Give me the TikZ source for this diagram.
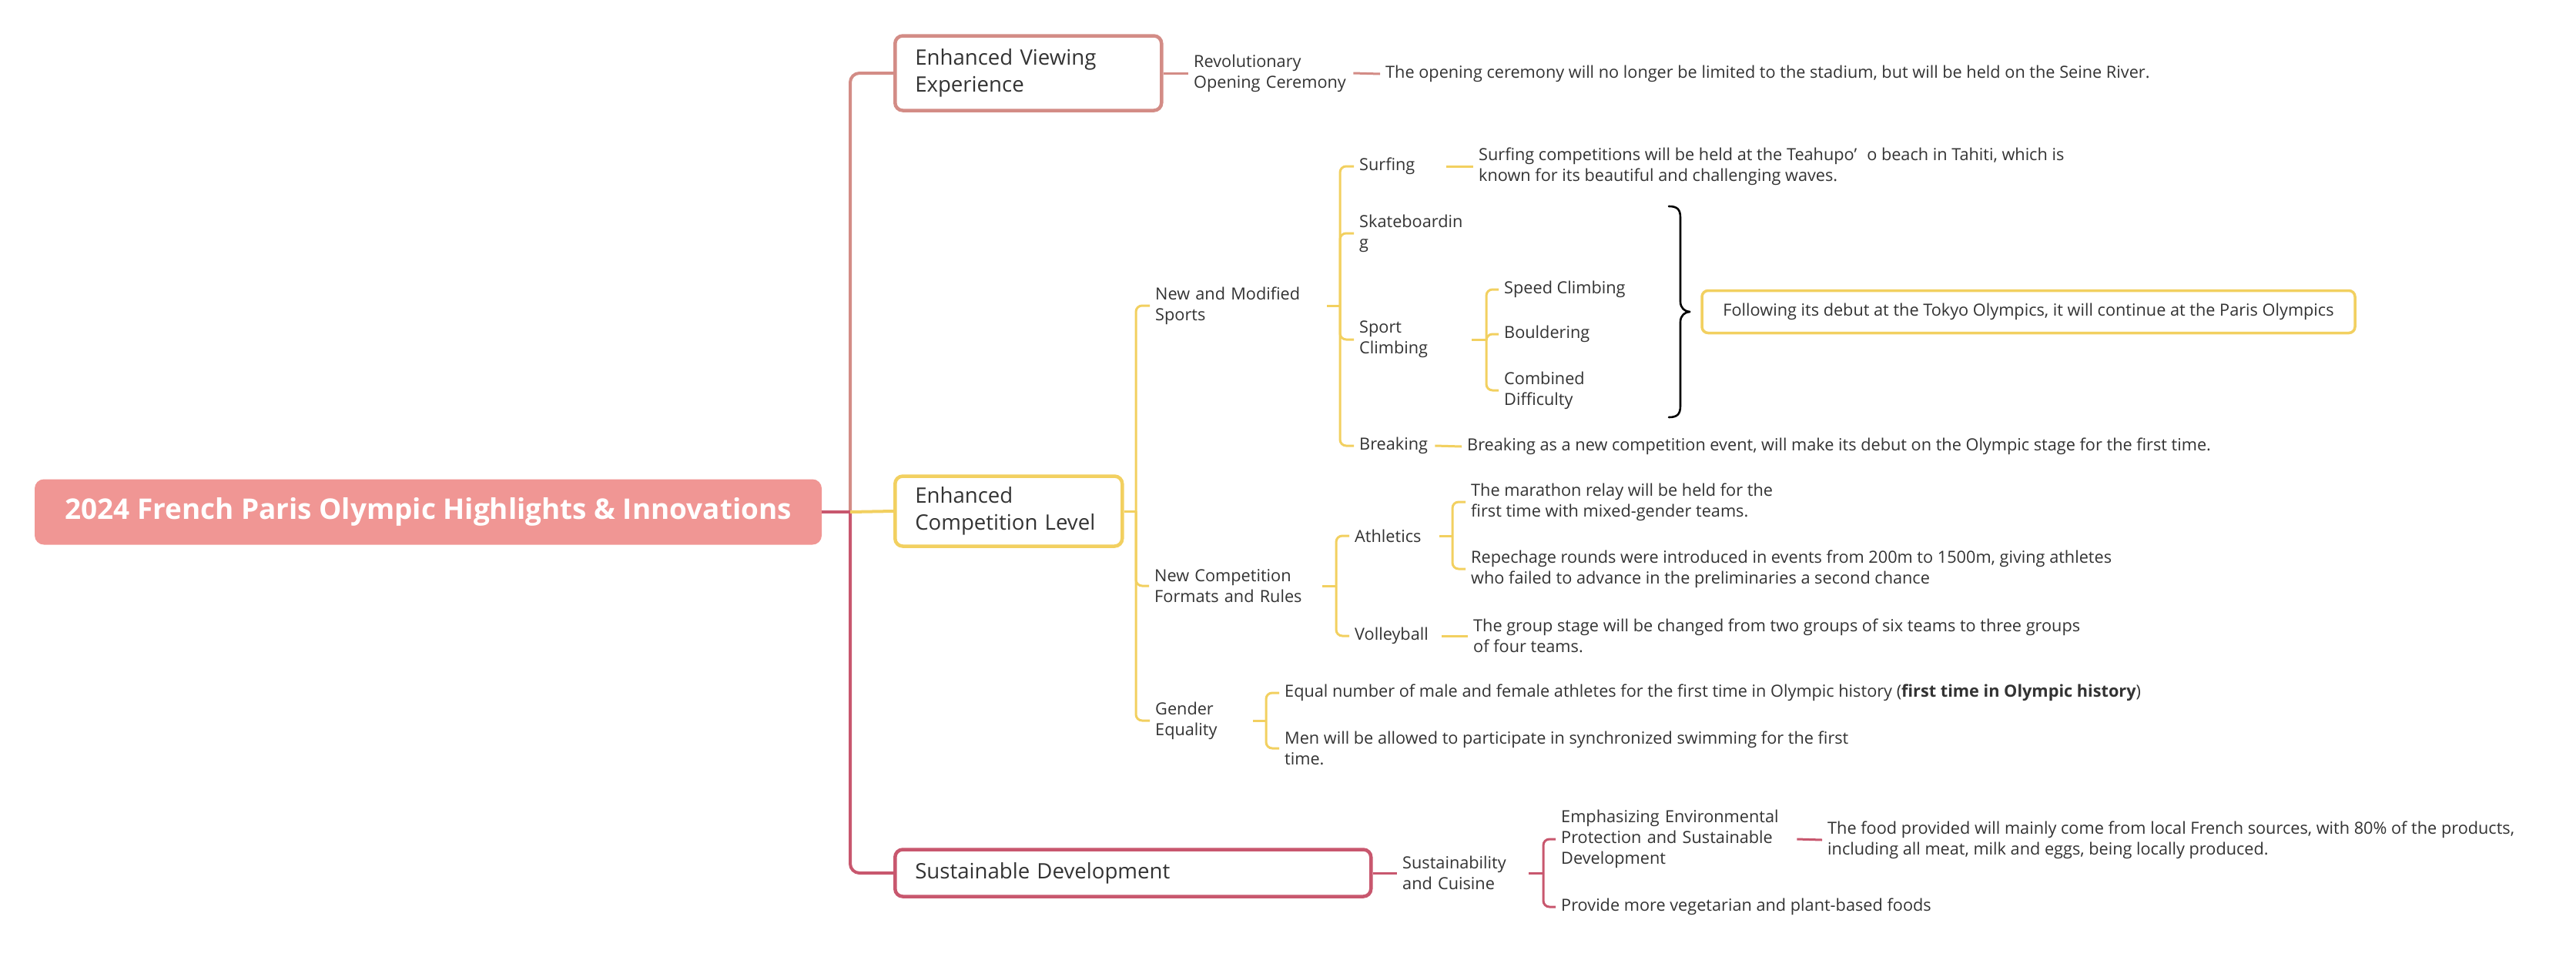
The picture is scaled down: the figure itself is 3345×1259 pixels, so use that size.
\documentclass[tikz,border=0pt]{standalone}
\usepackage{fontspec}
\setmainfont{Open Sans}
\definecolor{rosec}{RGB}{211,140,134}
\definecolor{yel}{RGB}{242,208,96}
\definecolor{crim}{RGB}{200,87,110}
\definecolor{rootfill}{RGB}{240,150,148}
\definecolor{txtc}{RGB}{51,51,51}
\begin{document}
\begin{tikzpicture}[x=1pt,y=-1pt,
  lbl/.style={anchor=west, inner xsep=7pt, inner ysep=0pt, align=left, text=txtc,
              font=\fontsize{21.7}{27}\selectfont},
  lone/.style={draw, line width=4.5pt, rounded corners=10pt, fill=white, anchor=west,
              align=left, inner xsep=26pt, inner ysep=0pt, text=txtc,
              font=\fontsize{27.6}{35}\selectfont},
  trunk/.style={line width=4pt},
  br/.style={line width=3pt, rounded corners=8pt},
  brace/.style={line width=2.6pt, black, line cap=round, line join=round}
]
\useasboundingbox (0,0) rectangle (3345,1259);

% root
\node[fill=rootfill, rounded corners=12pt, minimum width=1022pt, minimum height=85pt,
      text=white, font=\fontsize{36.9}{42}\selectfont\bfseries, inner sep=0pt]
  (root) at (556,665) {2024 French Paris Olympic Highlights \& Innovations};

% level 1
\node[lone, draw=rosec, text width=294pt, minimum height=97pt] (V) at (1160,95) {Enhanced Viewing\\Experience};
\node[lone, draw=yel, text width=243pt, minimum height=91pt] (C) at (1160,664) {Enhanced\\Competition Level};
\node[lone, draw=crim, text width=566pt, minimum height=61pt] (S) at (1160,1134) {Sustainable Development};

% trunk
\coordinate (tr) at (1104,665);
\draw[trunk, rosec, rounded corners=12pt] (tr) |- (V.west);
\draw[trunk, crim, rounded corners=12pt] (tr) |- (S.west);
\draw[trunk, crim] (root.east) -- (tr);
\draw[trunk, yel] (tr) -- (C.west);

% viewing branch
\node[lbl, text width=200pt] (RO) at (1543,95) {Revolutionary\\Opening Ceremony};
\node[lbl] (OC) at (1792,96) {The opening ceremony will no longer be limited to the stadium, but will be held on the Seine River.};
\draw[br, rosec] (V.east) -- (RO.west);
\draw[br, rosec] (RO.east) -- (OC.west);

% competition branch
\node[lbl, text width=216pt] (NMS) at (1493,397) {New and Modified\\Sports};
\node[lbl, text width=211pt] (NCF) at (1492,761) {New Competition\\Formats and Rules};
\node[lbl, text width=120pt] (GE) at (1493,936) {Gender\\Equality};
\coordinate (jC) at (1475,664);
\draw[br, yel] (C.east) -- (jC);
\draw[br, yel] (jC) |- (NMS.west);
\draw[br, yel] (jC) |- (NCF.west);
\draw[br, yel] (jC) |- (GE.west);

\node[lbl, text width=106pt] (SURF) at (1758,216) {Surfing};
\node[lbl] (SKATE) at (1758,303) {Skateboardin\\g};
\node[lbl, text width=139pt] (SC) at (1758,441) {Sport\\Climbing};
\node[lbl, text width=91pt] (BRK) at (1758,579) {Breaking};
\coordinate (jNMS) at (1740,397);
\draw[br, yel] (NMS.east) -- (jNMS);
\draw[br, yel] (jNMS) |- (SURF.west);
\draw[br, yel] (jNMS) |- (SKATE.west);
\draw[br, yel] (jNMS) |- (SC.west);
\draw[br, yel] (jNMS) |- (BRK.west);

\node[lbl] (SURFD) at (1913,216) {Surfing competitions will be held at the Teahupo’\hspace{0.6em}o beach in Tahiti, which is\\known for its beautiful and challenging waves.};
\draw[br, yel] (SURF.east) -- (SURFD.west);

\node[lbl] (SPD) at (1946,376) {Speed Climbing};
\node[lbl] (BOU) at (1946,434) {Bouldering};
\node[lbl] (CD) at (1946,507) {Combined\\Difficulty};
\coordinate (jSC) at (1930,441);
\draw[br, yel] (SC.east) -- (jSC);
\draw[br, yel] (jSC) |- (SPD.west);
\draw[br, yel] (jSC) |- (BOU.west);
\draw[br, yel] (jSC) |- (CD.west);

\node[draw=yel, line width=3.5pt, rounded corners=8pt, fill=white, minimum width=848pt,
      minimum height=55pt, inner sep=0pt, text=txtc, font=\fontsize{21.7}{27}\selectfont]
  (FOL) at (2634,405) {Following its debut at the Tokyo Olympics, it will continue at the Paris Olympics};
\coordinate (btip) at ([xshift=-14pt]FOL.west);
\draw[brace] (2167,268) .. controls (2178,268) and (2182,272) .. (2182,283) -- (2182,392)
  .. controls (2182,400) and (2188,405) .. (btip)
  .. controls (2188,405) and (2182,410) .. (2182,418) -- (2182,527)
  .. controls (2182,538) and (2178,542) .. (2167,542);

\node[lbl] (BRKD) at (1898,580) {Breaking as a new competition event, will make its debut on the Olympic stage for the first time.};
\draw[br, yel] (BRK.east) -- (BRKD.west);

\node[lbl, text width=103pt] (ATH) at (1752,696) {Athletics};
\node[lbl, text width=106pt] (VOL) at (1752,826) {Volleyball};
\coordinate (jNCF) at (1735,761);
\draw[br, yel] (NCF.east) -- (jNCF);
\draw[br, yel] (jNCF) |- (ATH.west);
\draw[br, yel] (jNCF) |- (VOL.west);

\node[lbl] (MAR) at (1903,652) {The marathon relay will be held for the\\first time with mixed-gender teams.};
\node[lbl] (REP) at (1903,739) {Repechage rounds were introduced in events from 200m to 1500m, giving athletes\\who failed to advance in the preliminaries a second chance};
\coordinate (jATH) at (1886,696);
\draw[br, yel] (ATH.east) -- (jATH);
\draw[br, yel] (jATH) |- (MAR.west);
\draw[br, yel] (jATH) |- (REP.west);

\node[lbl] (VOLD) at (1906,826) {The group stage will be changed from two groups of six teams to three groups\\of four teams.};
\draw[br, yel] (VOL.east) -- (VOLD.west);

\node[lbl] (EQ) at (1661,900) {Equal number of male and female athletes for the first time in Olympic history (\textbf{first time in Olympic history})};
\node[lbl] (MEN) at (1661,972) {Men will be allowed to participate in synchronized swimming for the first\\time.};
\coordinate (jGE) at (1644,936);
\draw[br, yel] (GE.east) -- (jGE);
\draw[br, yel] (jGE) |- (EQ.west);
\draw[br, yel] (jGE) |- (MEN.west);

% sustainable branch
\node[lbl, text width=157pt] (SC2) at (1814,1134) {Sustainability\\and Cuisine};
\draw[br, crim] (S.east) -- (SC2.west);
\node[lbl, text width=299pt] (EMP) at (2020,1090) {Emphasizing Environmental\\Protection and Sustainable\\Development};
\node[lbl] (PROV) at (2020,1178) {Provide more vegetarian and plant-based foods};
\coordinate (jSC2) at (2004,1134);
\draw[br, crim] (SC2.east) -- (jSC2);
\draw[br, crim] (jSC2) |- (EMP.west);
\draw[br, crim] (jSC2) |- (PROV.west);
\node[lbl] (FOOD) at (2366,1091) {The food provided will mainly come from local French sources, with 80\% of the products,\\including all meat, milk and eggs, being locally produced.};
\draw[br, crim] (EMP.east) -- (FOOD.west);
\end{tikzpicture}
\end{document}
